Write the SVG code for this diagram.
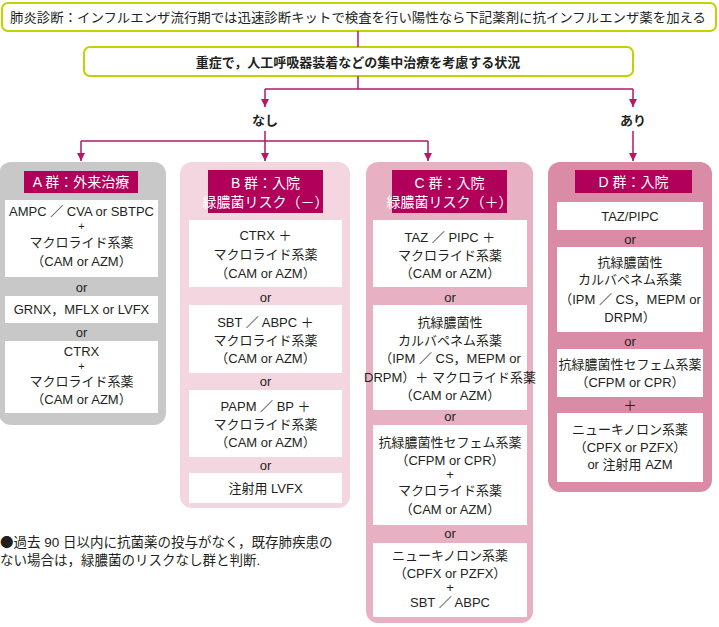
<svg xmlns="http://www.w3.org/2000/svg" width="719" height="627" viewBox="0 0 719 627">
<defs>
<style>
text{font-family:"Liberation Sans","Noto Sans CJK JP",sans-serif;font-size:13px;fill:#231f20;text-anchor:middle}
.hd{fill:#fff;font-size:14px}
.b{font-weight:bold}
.pl{font-size:11px}
.top{fill:#fff;stroke:#c5d000;stroke-width:2}
.hdr{fill:#b0005a}
.wb{fill:#fff}
.ln{fill:none;stroke:#b5176a;stroke-width:1.5}
.fn{text-anchor:start;font-size:13.5px}
.cjk{font-family:"Noto Sans CJK JP",sans-serif}
</style>
<marker id="ah" viewBox="0 0 10 10" refX="10" refY="5" markerWidth="8" markerHeight="8" markerUnits="userSpaceOnUse" orient="auto">
<path d="M0,0 L10,5 L0,10 Z" fill="#b5176a"/>
</marker>
</defs>
<rect width="719" height="627" fill="#fff"/>

<g id="top-node">
<rect class="top" x="2" y="3" width="714" height="28" rx="6"/>
<text x="358" y="22" font-size="13.5" textLength="696" lengthAdjust="spacingAndGlyphs">肺炎診断：インフルエンザ流行期では迅速診断キットで検査を行い陽性なら下記薬剤に抗インフルエンザ薬を加える</text>
</g>

<g id="severe-node">
<rect class="top" x="84" y="47" width="549" height="29" rx="6"/>
<text class="b" x="358" y="66.5" font-size="14">重症で，人工呼吸器装着などの集中治療を考慮する状況</text>
</g>

<g id="connectors">
<path class="ln" d="M358,31 V47"/>
<path class="ln" d="M358,76 V89 M265,89 H633"/>
<path class="ln" d="M265,89 V107" marker-end="url(#ah)"/>
<path class="ln" d="M633,89 V107" marker-end="url(#ah)"/>
<path class="ln" d="M265,131 V161" marker-end="url(#ah)"/>
<path class="ln" d="M81,141 H428"/>
<path class="ln" d="M81,141 V161" marker-end="url(#ah)"/>
<path class="ln" d="M428,141 V161" marker-end="url(#ah)"/>
<path class="ln" d="M633,131 V161" marker-end="url(#ah)"/>
</g>

<g id="label-nashi"><text class="b" x="265" y="124.5">なし</text></g>
<g id="label-ari"><text class="b" x="633" y="124.5">あり</text></g>

<g id="group-A">
<rect x="-1" y="162" width="167" height="263" rx="12" fill="#c8c8c8"/>
<rect class="hdr" x="24" y="171" width="114" height="22"/>
<text class="hd" x="81" y="187">A 群：外来治療</text>
<rect class="wb" x="5" y="200" width="153" height="77"/>
<text x="81.5" y="216">AMPC ／ CVA or SBTPC</text>
<text class="pl" x="81.5" y="230">+</text>
<text x="81.5" y="246.5">マクロライド系薬</text>
<text x="81.5" y="266">（CAM or AZM）</text>
<text x="81.5" y="291.5">or</text>
<rect class="wb" x="5" y="296" width="153" height="27"/>
<text x="81.5" y="314">GRNX，MFLX or LVFX</text>
<text x="81.5" y="336.5">or</text>
<rect class="wb" x="5" y="341" width="153" height="72"/>
<text x="81.5" y="356">CTRX</text>
<text class="pl" x="81.5" y="369.5">+</text>
<text x="81.5" y="385.5">マクロライド系薬</text>
<text x="81.5" y="404">（CAM or AZM）</text>
</g>

<g id="group-B">
<rect x="180" y="162" width="170" height="346" rx="12" fill="#f4d6e0"/>
<rect class="hdr" x="208" y="170" width="115" height="43"/>
<text class="hd" x="265.5" y="188">B 群：入院</text>
<text class="hd" x="265.5" y="207">緑膿菌リスク（－）</text>
<rect class="wb" x="189" y="220" width="153" height="67"/>
<text x="265.5" y="240">CTRX ＋</text>
<text x="265.5" y="258.5">マクロライド系薬</text>
<text x="265.5" y="277.5">（CAM or AZM）</text>
<text x="265.5" y="301.5">or</text>
<rect class="wb" x="189" y="305" width="153" height="68"/>
<text x="265.5" y="326.5">SBT ／ ABPC ＋</text>
<text x="265.5" y="344.5">マクロライド系薬</text>
<text x="265.5" y="362.5">（CAM or AZM）</text>
<text x="265.5" y="385.5">or</text>
<rect class="wb" x="189" y="390" width="153" height="67"/>
<text x="265.5" y="411">PAPM ／ BP ＋</text>
<text x="265.5" y="428.5">マクロライド系薬</text>
<text x="265.5" y="446.5">（CAM or AZM）</text>
<text x="265.5" y="469.5">or</text>
<rect class="wb" x="189" y="473" width="153" height="30"/>
<text x="265.5" y="493">注射用 LVFX</text>
</g>

<g id="group-C">
<rect x="366" y="162" width="167" height="461" rx="12" fill="#e7b1c3"/>
<rect class="hdr" x="392" y="170" width="115" height="43"/>
<text class="hd" x="449.5" y="188">C 群：入院</text>
<text class="hd" x="449.5" y="207">緑膿菌リスク（＋）</text>
<rect class="wb" x="373" y="220" width="154" height="67"/>
<text x="450" y="241.5">TAZ ／ PIPC ＋</text>
<text x="450" y="259.5">マクロライド系薬</text>
<text x="450" y="277.5">（CAM or AZM）</text>
<text x="450" y="301.5">or</text>
<rect class="wb" x="373" y="305" width="154" height="105"/>
<text x="450" y="326.5">抗緑膿菌性</text>
<text x="450" y="344.5">カルバペネム系薬</text>
<text x="450" y="362.5">（IPM ／ CS，MEPM or</text>
<text x="450" y="381.5">DRPM）＋ マクロライド系薬</text>
<text x="450" y="399.5">（CAM or AZM）</text>
<text x="450" y="421">or</text>
<rect class="wb" x="373" y="425" width="154" height="100"/>
<text x="450" y="446.5">抗緑膿菌性セフェム系薬</text>
<text x="450" y="464.5">（CFPM or CPR）</text>
<text x="450" y="479">+</text>
<text x="450" y="495">マクロライド系薬</text>
<text x="450" y="513.5">（CAM or AZM）</text>
<text x="450" y="537.5">or</text>
<rect class="wb" x="373" y="543" width="154" height="74"/>
<text x="450" y="560">ニューキノロン系薬</text>
<text x="450" y="577.5">（CPFX or PZFX）</text>
<text x="450" y="592">+</text>
<text x="450" y="606.5">SBT ／ ABPC</text>
</g>

<g id="group-D">
<rect x="548" y="162" width="164" height="330" rx="12" fill="#da8ba6"/>
<rect class="hdr" x="575" y="170" width="117" height="23"/>
<text class="hd" x="633.5" y="187">D 群：入院</text>
<rect class="wb" x="557" y="202" width="146" height="28"/>
<text x="630" y="220.5">TAZ/PIPC</text>
<text x="630" y="243.5">or</text>
<rect class="wb" x="557" y="247" width="146" height="85"/>
<text x="630" y="266.5">抗緑膿菌性</text>
<text x="630" y="283.5">カルバペネム系薬</text>
<text x="630" y="303.5">（IPM ／ CS，MEPM or</text>
<text x="630" y="321.5">DRPM）</text>
<text x="630" y="345.5">or</text>
<rect class="wb" x="557" y="349" width="146" height="48"/>
<text x="630" y="368.5">抗緑膿菌性セフェム系薬</text>
<text x="630" y="386.5">（CFPM or CPR）</text>
<text x="630" y="409.5">＋</text>
<rect class="wb" x="557" y="413" width="146" height="69"/>
<text x="630" y="433.5">ニューキノロン系薬</text>
<text x="630" y="451.5">（CPFX or PZFX）</text>
<text x="630" y="468.5">or 注射用 AZM</text>
</g>

<g id="footnote">
<text class="fn" x="0" y="546.5"><tspan class="cjk">●</tspan>過去 90 日以内に抗菌薬の投与がなく，既存肺疾患の</text>
<text class="fn" x="0" y="564.5">ない場合は，緑膿菌のリスクなし群と判断.</text>
</g>
</svg>
